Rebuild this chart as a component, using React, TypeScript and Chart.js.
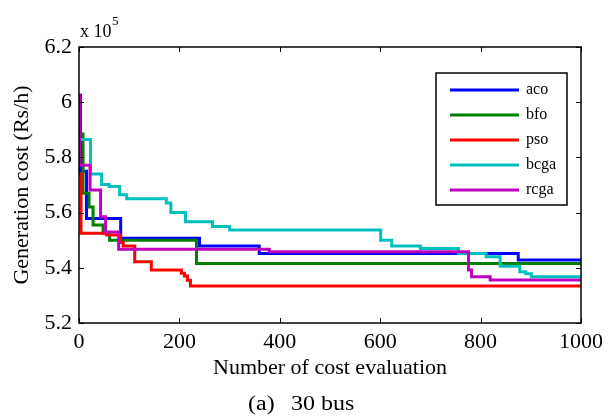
import React, { useEffect, useRef } from "react";
import { Chart, registerables } from "chart.js";

Chart.register(...registerables);

// x: number of cost evaluations, y: generation cost (x 10^5 Rs/h)
const acoX = [0, 3, 15, 83, 240, 359, 875, 1000];
const acoY = [6.025, 5.75, 5.579, 5.507, 5.479, 5.452, 5.428, 5.428];

const bfoX = [0, 8, 20, 28, 48, 61, 234, 1000];
const bfoY = [5.885, 5.67, 5.62, 5.555, 5.525, 5.5, 5.416, 5.416];

const psoX = [0, 4, 55, 83, 88, 111, 144, 204, 210, 216, 222, 1000];
const psoY = [5.74, 5.525, 5.519, 5.492, 5.479, 5.422, 5.392, 5.38, 5.37, 5.355, 5.334, 5.332];

const bcgaX = [0, 23, 45, 60, 81, 95, 174, 183, 212, 266, 300, 601, 623, 680, 756, 811, 839, 878, 890, 901, 1000];
const bcgaY = [5.865, 5.74, 5.702, 5.695, 5.665, 5.65, 5.635, 5.6, 5.567, 5.55, 5.537, 5.5, 5.479, 5.47, 5.452, 5.44, 5.406, 5.386, 5.378, 5.368, 5.368];

const rcgaX = [0, 1, 22, 43, 53, 79, 379, 776, 782, 819, 1000];
const rcgaY = [6.025, 5.772, 5.682, 5.585, 5.53, 5.467, 5.458, 5.392, 5.368, 5.356, 5.356];

const seriesNames = ["aco", "bfo", "pso", "bcga", "rcga"];
const seriesColors = ["#0000ff", "#008000", "#ff0000", "#00bfbf", "#bf00bf"];

const xTicks = [0, 200, 400, 600, 800, 1000];
const yTicks = [5.2, 5.4, 5.6, 5.8, 6.0, 6.2];

const xTitle = "Number of cost evaluation";
const yTitle = "Generation cost (Rs/h)";
const captionLabel = "(a)";
const captionText = "30 bus";

const FONT = '"Liberation Serif", "Times New Roman", serif';

function pts(xs: number[], ys: number[]) {
  return xs.map((x, i) => ({ x, y: ys[i] }));
}

const decorPlugin = {
  id: "decor",
  afterDatasetsDraw(chart: any) {
    const { ctx, chartArea, scales } = chart;
    const { left, right, top, bottom } = chartArea;
    const xs = scales.x;
    const ys = scales.y;
    ctx.save();
    ctx.strokeStyle = "#000";
    ctx.lineWidth = 1.5;
    ctx.strokeRect(left, top, right - left, bottom - top);
    ctx.lineWidth = 1;
    const tl = 5;
    ctx.beginPath();
    xTicks.forEach((v) => {
      const p = Math.round(xs.getPixelForValue(v)) + 0.5;
      ctx.moveTo(p, bottom);
      ctx.lineTo(p, bottom - tl);
      ctx.moveTo(p, top);
      ctx.lineTo(p, top + tl);
    });
    yTicks.forEach((v) => {
      const p = Math.round(ys.getPixelForValue(v)) + 0.5;
      ctx.moveTo(left, p);
      ctx.lineTo(left + tl, p);
      ctx.moveTo(right, p);
      ctx.lineTo(right - tl, p);
    });
    ctx.stroke();

    // legend
    const lx = 436, ly = 73, lw = 131, lh = 132;
    ctx.fillStyle = "#fff";
    ctx.fillRect(lx, ly, lw, lh);
    ctx.lineWidth = 1.5;
    ctx.strokeStyle = "#000";
    ctx.strokeRect(lx, ly, lw, lh);
    ctx.font = "16px " + FONT;
    ctx.textBaseline = "middle";
    ctx.textAlign = "left";
    seriesNames.forEach((n, i) => {
      const yy = 90 + i * 25;
      ctx.strokeStyle = seriesColors[i];
      ctx.lineWidth = 3;
      ctx.beginPath();
      ctx.moveTo(450, yy);
      ctx.lineTo(519, yy);
      ctx.stroke();
      ctx.fillStyle = "#000";
      ctx.fillText(n, 526, yy);
    });

    // titles
    ctx.fillStyle = "#000";
    ctx.font = "22px " + FONT;
    ctx.textAlign = "center";
    ctx.textBaseline = "middle";
    ctx.fillText(xTitle, (left + right) / 2, 368);
    ctx.save();
    ctx.translate(22, (top + bottom) / 2);
    ctx.rotate(-Math.PI / 2);
    ctx.fillText(yTitle, 0, 0);
    ctx.restore();

    ctx.save();
    ctx.font = "20px " + FONT;
    ctx.textAlign = "left";
    ctx.translate(248, 405);
    ctx.scale(1.2, 1);
    ctx.fillText(captionLabel, 0, 0);
    ctx.fillText(captionText, (291 - 248) / 1.2, 0);
    ctx.restore();

    // exponent label
    ctx.textAlign = "left";
    ctx.textBaseline = "alphabetic";
    ctx.font = "18px " + FONT;
    ctx.fillText("x 10", 80, 37);
    ctx.font = "13px " + FONT;
    ctx.fillText("5", 112, 25);
    ctx.restore();
  },
};

export default function App() {
  const ref = useRef<HTMLCanvasElement | null>(null);
  useEffect(() => {
    if (!ref.current) return;
    const xsAll = [acoX, bfoX, psoX, bcgaX, rcgaX];
    const ysAll = [acoY, bfoY, psoY, bcgaY, rcgaY];
    const chart = new Chart(ref.current, {
      type: "line",
      data: {
        datasets: seriesNames.map((n, i) => ({
          label: n,
          data: pts(xsAll[i], ysAll[i]),
          borderColor: seriesColors[i],
          backgroundColor: seriesColors[i],
          borderWidth: 3,
          pointRadius: 0,
          stepped: "before" as const,
          fill: false,
          order: 5 - i,
        })),
      },
      options: {
        animation: false,
        responsive: false,
        maintainAspectRatio: false,
        layout: { padding: { top: 47, right: 26, left: 0, bottom: 0 } },
        plugins: { legend: { display: false }, tooltip: { enabled: false } },
        scales: {
          x: {
            type: "linear",
            min: 0,
            max: 1000,
            grid: { display: false, drawTicks: false },
            border: { display: false },
            afterFit: (s: any) => {
              s.height = 93;
            },
            afterBuildTicks: (s: any) => {
              s.ticks = xTicks.map((v) => ({ value: v }));
            },
            ticks: {
              color: "#000",
              padding: 6,
              maxRotation: 0,
              font: { family: FONT, size: 22 },
              callback: (v: any) => String(v),
            },
          },
          y: {
            type: "linear",
            min: 5.2,
            max: 6.2,
            grid: { display: false, drawTicks: false },
            border: { display: false },
            afterFit: (s: any) => {
              s.width = 79;
            },
            afterBuildTicks: (s: any) => {
              s.ticks = yTicks.map((v) => ({ value: v }));
            },
            ticks: {
              color: "#000",
              padding: 7,
              font: { family: FONT, size: 22 },
              callback: (v: any) => String(Number(Number(v).toFixed(1))),
            },
          },
        },
      },
      plugins: [decorPlugin],
    });
    return () => chart.destroy();
  }, []);
  return (
    <div style={{ position: "absolute", left: 0, top: 0, width: 609, height: 416, background: "#fff" }}>
      <canvas ref={ref} width={609} height={416} />
    </div>
  );
}
